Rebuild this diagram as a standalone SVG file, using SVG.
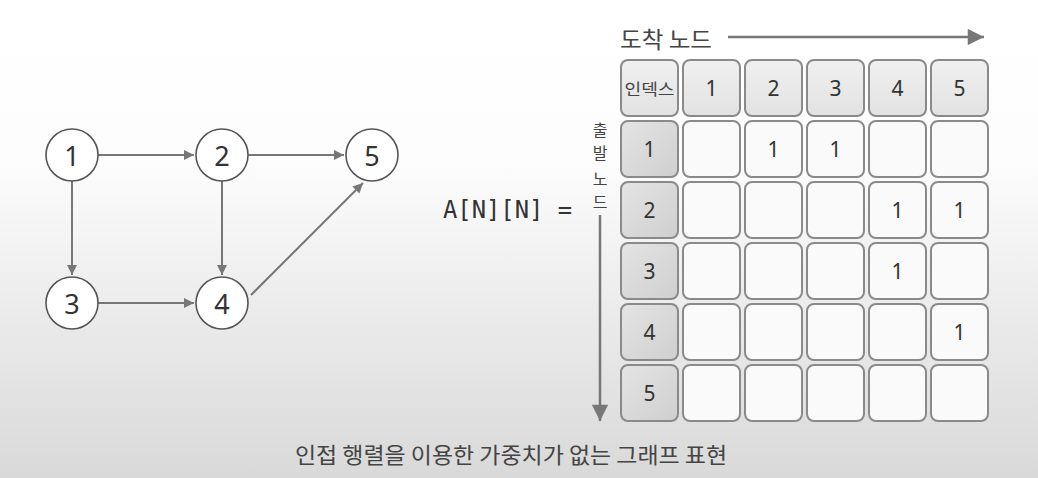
<svg xmlns="http://www.w3.org/2000/svg" width="1038" height="478" viewBox="0 0 1038 478">
<defs>
<linearGradient id="bg" x1="0" y1="0" x2="0" y2="1">
<stop offset="0" stop-color="#ffffff"/>
<stop offset="0.33" stop-color="#fdfdfd"/>
<stop offset="0.6" stop-color="#eeeeee"/>
<stop offset="1" stop-color="#d9d9d9"/>
</linearGradient>
<linearGradient id="hdr" x1="0" y1="0" x2="0" y2="1">
<stop offset="0" stop-color="#f0f0f0"/>
<stop offset="1" stop-color="#e2e2e2"/>
</linearGradient>
<linearGradient id="idx" x1="0" y1="0" x2="1" y2="1">
<stop offset="0" stop-color="#e4e4e4"/>
<stop offset="1" stop-color="#cfcfcf"/>
</linearGradient>
<marker id="ah" viewBox="0 0 10 10" refX="10" refY="5" markerWidth="5.5" markerHeight="5" orient="auto" markerUnits="strokeWidth">
<path d="M0,0 L10,5 L0,10 z" fill="#777"/>
</marker>
<marker id="bigah" viewBox="0 0 10 10" refX="10" refY="5" markerWidth="8.5" markerHeight="6.5" orient="auto" markerUnits="strokeWidth">
<path d="M0,0 L10,5 L0,10 z" fill="#777"/>
</marker>
</defs>
<style>
.node circle{fill:#fff;stroke:#555;stroke-width:1.6}
.nt{font-family:"Noto Sans","Noto Sans CJK KR",sans-serif;font-size:27px;fill:#333;text-anchor:middle;dominant-baseline:central}
.edge{stroke:#777;stroke-width:2;fill:none;marker-end:url(#ah)}
.cell{fill:#fafafa;stroke:#8a8a8a;stroke-width:2}
.hcell{fill:url(#hdr);stroke:#8a8a8a;stroke-width:2}
.icell{fill:url(#idx);stroke:#8a8a8a;stroke-width:2}
.ct{font-family:"Noto Sans","Noto Sans CJK KR",sans-serif;font-size:21px;fill:#333;text-anchor:middle;dominant-baseline:central}
.kr{font-family:"Noto Sans CJK KR",sans-serif;fill:#444}
</style>
<rect x="0" y="0" width="1038" height="478" fill="url(#bg)"/>

<g id="connectors">
<line class="edge" x1="98" y1="155" x2="194" y2="155"/>
<line class="edge" x1="248" y1="155" x2="344" y2="155"/>
<line class="edge" x1="72" y1="181" x2="72" y2="275"/>
<line class="edge" x1="222" y1="181" x2="222" y2="275"/>
<line class="edge" x1="98" y1="303" x2="194" y2="303"/>
<line class="edge" x1="251" y1="295" x2="363" y2="183"/>
</g>

<g id="node1" class="node"><circle cx="72" cy="155" r="26"/><text class="nt" x="72" y="155">1</text></g>
<g id="node2" class="node"><circle cx="222" cy="155" r="26"/><text class="nt" x="222" y="155">2</text></g>
<g id="node5" class="node"><circle cx="372" cy="155" r="26"/><text class="nt" x="372" y="155">5</text></g>
<g id="node3" class="node"><circle cx="72" cy="303" r="26"/><text class="nt" x="72" y="303">3</text></g>
<g id="node4" class="node"><circle cx="222" cy="303" r="26"/><text class="nt" x="222" y="303">4</text></g>

<text x="443" y="218" font-family="DejaVu Sans Mono, monospace" font-size="24" fill="#333" textLength="129" lengthAdjust="spacingAndGlyphs">A[N][N] =</text>

<g id="axis-top">
<text class="kr" x="620" y="48" font-size="23" textLength="92" lengthAdjust="spacingAndGlyphs">도착 노드</text>
<line x1="728" y1="37" x2="984" y2="37" stroke="#777" stroke-width="2.5" marker-end="url(#bigah)"/>
</g>
<g id="axis-left">
<text class="kr" font-size="16" text-anchor="middle" x="600"><tspan x="600" y="136">출</tspan><tspan x="600" y="159">발</tspan><tspan x="600" y="185">노</tspan><tspan x="600" y="208">드</tspan></text>
<line x1="600" y1="215" x2="600" y2="421" stroke="#777" stroke-width="2.5" marker-end="url(#bigah)"/>
</g>

<g id="matrix">
<rect class="hcell" x="621" y="60" width="57" height="56" rx="7"/>
<rect class="hcell" x="683" y="60" width="57" height="56" rx="7"/>
<rect class="hcell" x="745" y="60" width="57" height="56" rx="7"/>
<rect class="hcell" x="807" y="60" width="57" height="56" rx="7"/>
<rect class="hcell" x="869" y="60" width="57" height="56" rx="7"/>
<rect class="hcell" x="931" y="60" width="57" height="56" rx="7"/>
<text class="kr" x="649.5" y="88" font-size="16" text-anchor="middle" dominant-baseline="central" fill="#333" textLength="50" lengthAdjust="spacingAndGlyphs">인덱스</text>
<text class="ct" x="711.5" y="88">1</text>
<text class="ct" x="773.5" y="88">2</text>
<text class="ct" x="835.5" y="88">3</text>
<text class="ct" x="897.5" y="88">4</text>
<text class="ct" x="959.5" y="88">5</text>

<rect class="icell" x="621" y="121" width="57" height="56" rx="7"/>
<rect class="icell" x="621" y="182" width="57" height="56" rx="7"/>
<rect class="icell" x="621" y="243" width="57" height="56" rx="7"/>
<rect class="icell" x="621" y="304" width="57" height="56" rx="7"/>
<rect class="icell" x="621" y="365" width="57" height="56" rx="7"/>
<text class="ct" x="649.5" y="149">1</text>
<text class="ct" x="649.5" y="210">2</text>
<text class="ct" x="649.5" y="271">3</text>
<text class="ct" x="649.5" y="332">4</text>
<text class="ct" x="649.5" y="393">5</text>

<g>
<rect class="cell" x="683" y="121" width="57" height="56" rx="7"/>
<rect class="cell" x="745" y="121" width="57" height="56" rx="7"/>
<rect class="cell" x="807" y="121" width="57" height="56" rx="7"/>
<rect class="cell" x="869" y="121" width="57" height="56" rx="7"/>
<rect class="cell" x="931" y="121" width="57" height="56" rx="7"/>
<rect class="cell" x="683" y="182" width="57" height="56" rx="7"/>
<rect class="cell" x="745" y="182" width="57" height="56" rx="7"/>
<rect class="cell" x="807" y="182" width="57" height="56" rx="7"/>
<rect class="cell" x="869" y="182" width="57" height="56" rx="7"/>
<rect class="cell" x="931" y="182" width="57" height="56" rx="7"/>
<rect class="cell" x="683" y="243" width="57" height="56" rx="7"/>
<rect class="cell" x="745" y="243" width="57" height="56" rx="7"/>
<rect class="cell" x="807" y="243" width="57" height="56" rx="7"/>
<rect class="cell" x="869" y="243" width="57" height="56" rx="7"/>
<rect class="cell" x="931" y="243" width="57" height="56" rx="7"/>
<rect class="cell" x="683" y="304" width="57" height="56" rx="7"/>
<rect class="cell" x="745" y="304" width="57" height="56" rx="7"/>
<rect class="cell" x="807" y="304" width="57" height="56" rx="7"/>
<rect class="cell" x="869" y="304" width="57" height="56" rx="7"/>
<rect class="cell" x="931" y="304" width="57" height="56" rx="7"/>
<rect class="cell" x="683" y="365" width="57" height="56" rx="7"/>
<rect class="cell" x="745" y="365" width="57" height="56" rx="7"/>
<rect class="cell" x="807" y="365" width="57" height="56" rx="7"/>
<rect class="cell" x="869" y="365" width="57" height="56" rx="7"/>
<rect class="cell" x="931" y="365" width="57" height="56" rx="7"/>
</g>
<text class="ct" x="773.5" y="149">1</text>
<text class="ct" x="835.5" y="149">1</text>
<text class="ct" x="897.5" y="210">1</text>
<text class="ct" x="959.5" y="210">1</text>
<text class="ct" x="897.5" y="271">1</text>
<text class="ct" x="959.5" y="332">1</text>
</g>

<text class="kr" x="295" y="463" font-size="22" fill="#444" textLength="432" lengthAdjust="spacingAndGlyphs">인접 행렬을 이용한 가중치가 없는 그래프 표현</text>
</svg>
